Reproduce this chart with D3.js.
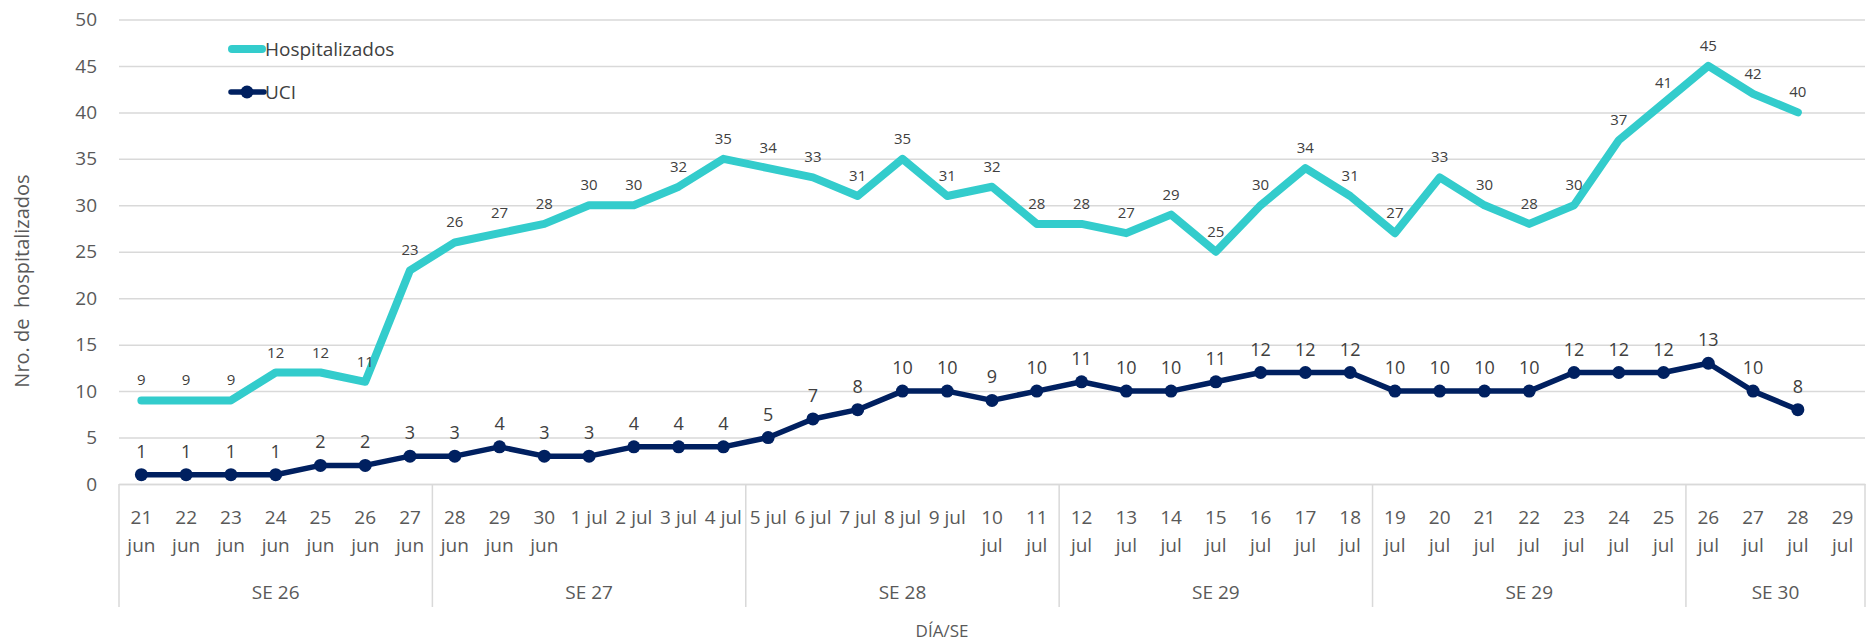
<!DOCTYPE html>
<html>
<head>
<meta charset="utf-8">
<script src="https://cdn.jsdelivr.net/npm/d3@7"></script>
<style>
    body {margin: 0; background: #fff;}
    svg {display: block; font-family: "Open Sans", "Noto Sans", sans-serif;}
</style>
</head>
<body>
<svg id="chart_svg" width="1876" height="644"></svg>
<script>
// days on the x axis
var days = ["21 jun", "22 jun", "23 jun", "24 jun", "25 jun", "26 jun", "27 jun",
    "28 jun", "29 jun", "30 jun", "1 jul", "2 jul", "3 jul", "4 jul",
    "5 jul", "6 jul", "7 jul", "8 jul", "9 jul", "10 jul", "11 jul",
    "12 jul", "13 jul", "14 jul", "15 jul", "16 jul", "17 jul", "18 jul",
    "19 jul", "20 jul", "21 jul", "22 jul", "23 jul", "24 jul", "25 jul",
    "26 jul", "27 jul", "28 jul", "29 jul"];
// epidemiological weeks and how many days each one has
var weeks = ["SE 26", "SE 27", "SE 28", "SE 29", "SE 29", "SE 30"];
var weekDays = [7, 7, 7, 7, 7, 4];

var hospitalizados = [9, 9, 9, 12, 12, 11, 23,
    26, 27, 28, 30, 30, 32, 35,
    34, 33, 31, 35, 31, 32, 28,
    28, 27, 29, 25, 30, 34, 31,
    27, 33, 30, 28, 30, 37, 41,
    45, 42, 40];
var uci = [1, 1, 1, 1, 2, 2, 3,
    3, 4, 3, 3, 4, 4, 4,
    5, 7, 8, 10, 10, 9, 10,
    11, 10, 10, 11, 12, 12, 12,
    10, 10, 10, 10, 12, 12, 12,
    13, 10, 8];
var yTicks = [0, 5, 10, 15, 20, 25, 30, 35, 40, 45, 50];

var colorHosp = "#33cccc";
var colorUci = "#002060";
var gridColor = "#d9d9d9";
var textColor = "#595959";

var svg = d3.select("#chart_svg");
var margin = {top: 19.5, right: 11, bottom: 160, left: 119};
var innerWidth = 1876 - margin.left - margin.right;
var innerHeight = 644 - margin.top - margin.bottom;

var g = svg.append("g")
    .attr("transform", "translate(" + margin.left + "," + margin.top + ")");

var xScale = d3.scaleBand().domain(days).range([0, innerWidth]);
var yScale = d3.scaleLinear().domain([0, 50]).range([innerHeight, 0]);
var xc = function(i) { return xScale(days[i]) + xScale.bandwidth() / 2; };

// y axis + gridlines
var yAxis = d3.axisLeft(yScale).tickValues(yTicks).tickSize(-innerWidth).tickPadding(22);
var gy = g.append("g").call(yAxis).attr("font-family", null).attr("font-size", null);
gy.select(".domain").remove();
gy.selectAll("line").attr("stroke", gridColor).attr("stroke-width", 1.5);
gy.selectAll("text").attr("fill", textColor).style("font-size", "19px");

// x axis: day labels, wrapped when they do not fit
var xAxis = d3.axisBottom(xScale).tickSize(0).tickPadding(0);
var gx = g.append("g").attr("transform", "translate(0," + innerHeight + ")").call(xAxis)
    .attr("font-family", null).attr("font-size", null);
gx.select(".domain").attr("stroke", gridColor).attr("stroke-width", 1.5);
gx.selectAll(".tick text").each(function(d) {
    var t = d3.select(this);
    t.text(null).attr("fill", textColor)
        .style("font-size", "19px").attr("y", 0).attr("dy", null);
    var parts = d.length > 5 ? d.split(" ") : [d];
    parts.forEach(function(p, k) {
        t.append("tspan").attr("x", 0).attr("y", 40 + k * 28).text(p);
    });
});

// week groups with separators
var start = 0;
var bounds = [0];
weekDays.forEach(function(n) { start += n; bounds.push(start); });
var sepX = function(k) {
    return k < days.length ? xScale(days[k]) : innerWidth;
};
g.selectAll(".sep").data(bounds).enter().append("line")
    .attr("x1", d => sepX(d)).attr("x2", d => sepX(d))
    .attr("y1", innerHeight).attr("y2", innerHeight + 123)
    .attr("stroke", gridColor).attr("stroke-width", 1.5);
g.selectAll(".week").data(weeks).enter().append("text")
    .attr("x", (d, i) => (sepX(bounds[i]) + sepX(bounds[i + 1])) / 2)
    .attr("y", innerHeight + 115)
    .attr("text-anchor", "middle").attr("fill", textColor)
    .style("font-size", "19px").text(d => d);

// axis titles
svg.append("text").attr("x", 942).attr("y", 637).attr("text-anchor", "middle")
    .attr("fill", textColor).style("font-size", "17px").text("DÍA/SE");
svg.append("text").attr("transform", "translate(29,281) rotate(-90)")
    .attr("text-anchor", "middle").attr("fill", textColor)
    .style("font-size", "20px").style("white-space", "pre")
    .text("Nro. de  hospitalizados");

// lines
var line = d3.line().x((d, i) => xc(i)).y(d => yScale(d));
g.append("path").datum(hospitalizados).attr("d", line)
    .attr("fill", "none").attr("stroke", colorHosp).attr("stroke-width", 8)
    .attr("stroke-linejoin", "round").attr("stroke-linecap", "round");
g.append("path").datum(uci).attr("d", line)
    .attr("fill", "none").attr("stroke", colorUci).attr("stroke-width", 5.5)
    .attr("stroke-linejoin", "round");
g.selectAll(".uciDot").data(uci).enter().append("circle")
    .attr("cx", (d, i) => xc(i)).attr("cy", d => yScale(d)).attr("r", 6.5)
    .attr("fill", colorUci);

// data labels
g.selectAll(".hLabel").data(hospitalizados).enter().append("text")
    .attr("x", (d, i) => xc(i)).attr("y", d => yScale(d) - 15)
    .attr("text-anchor", "middle").attr("fill", "#404040")
    .style("font-size", "15px").text(d => d);
g.selectAll(".uLabel").data(uci).enter().append("text")
    .attr("x", (d, i) => xc(i)).attr("y", d => yScale(d) - 17)
    .attr("text-anchor", "middle").attr("fill", "#404040")
    .style("font-size", "18px").text(d => d);

// legend
var legend = svg.append("g");
legend.append("line").attr("x1", 232).attr("x2", 262).attr("y1", 49).attr("y2", 49)
    .attr("stroke", colorHosp).attr("stroke-width", 8).attr("stroke-linecap", "round");
legend.append("text").attr("x", 265).attr("y", 56).attr("fill", "#404040")
    .style("font-size", "19px").text("Hospitalizados");
legend.append("line").attr("x1", 231).attr("x2", 264).attr("y1", 92).attr("y2", 92)
    .attr("stroke", colorUci).attr("stroke-width", 5.5).attr("stroke-linecap", "round");
legend.append("circle").attr("cx", 247).attr("cy", 92).attr("r", 6.5).attr("fill", colorUci);
legend.append("text").attr("x", 265).attr("y", 99).attr("fill", "#404040")
    .style("font-size", "19px").text("UCI");
</script>
</body>
</html>
